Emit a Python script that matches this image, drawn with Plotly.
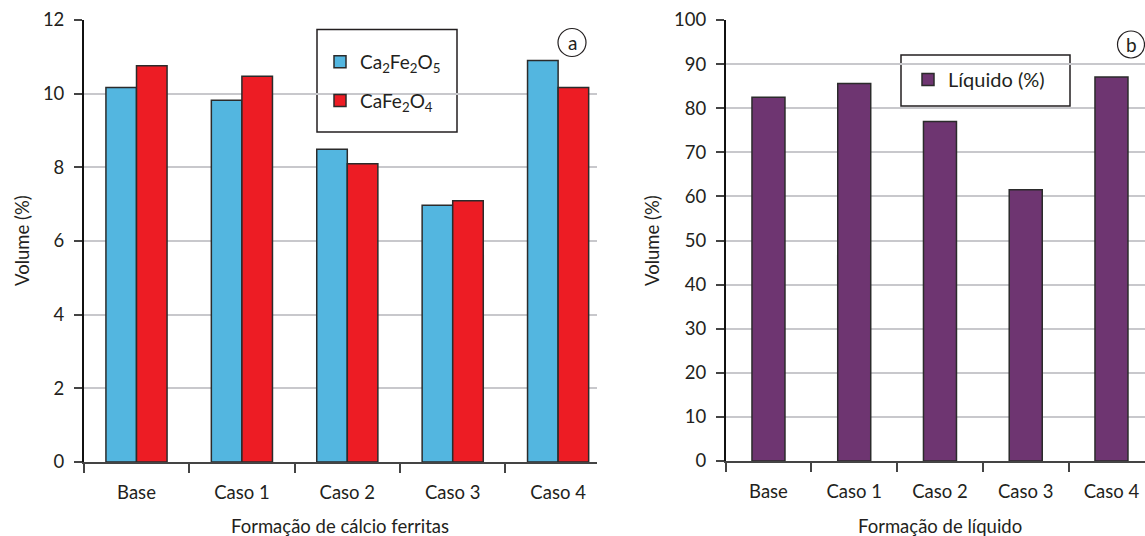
import plotly.graph_objects as go

categories = ["Base", "Caso 1", "Caso 2", "Caso 3", "Caso 4"]
ca2fe2o5 = [10.17, 9.82, 8.49, 6.97, 10.9]
cafe2o4 = [10.76, 10.47, 8.1, 7.09, 10.17]
liquido = [82.5, 85.6, 77.0, 61.5, 87.1]

W, H = 1145, 536
FONT = "Lato"
DARK = "#2b2b2b"
GRID = "#c8c8cc"
TXT = "#231f20"


def px(x):
    return x / W


def py(y):
    return 1 - y / H


fig = go.Figure()

fig.add_trace(go.Bar(
    x=categories, y=ca2fe2o5, name="Ca<sub>2</sub>Fe<sub>2</sub>O<sub>5</sub>",
    marker=dict(color="#53b6e0", line=dict(color=DARK, width=1.5)),
    width=0.29, offset=-0.29, xaxis="x", yaxis="y", legend="legend",
    legendgroup="g1",
))
fig.add_trace(go.Bar(
    x=categories, y=cafe2o4, name="CaFe<sub>2</sub>O<sub>4</sub>",
    marker=dict(color="#ed1c24", line=dict(color=DARK, width=1.5)),
    width=0.29, offset=0.0, xaxis="x", yaxis="y", legend="legend",
    legendgroup="g2",
))
fig.add_trace(go.Bar(
    x=categories, y=liquido, name="Líquido (%)",
    marker=dict(color="#6e3571", line=dict(color=DARK, width=1.5)),
    width=0.385, xaxis="x2", yaxis="y2", legend="legend2",
))

tickfont = dict(family=FONT, size=18.5, color=TXT)
titlefont = dict(family=FONT, size=18.5, color=TXT)

xcommon = dict(
    type="category", showline=True, linecolor="#444", linewidth=1.5,
    ticks="outside", tickson="boundaries", ticklen=9, tickwidth=1.5,
    tickcolor="#444", tickfont=tickfont, showgrid=False, zeroline=False,
    automargin=False, ticklabelstandoff=13,
)
ycommon = dict(
    showline=True, linecolor="#111", linewidth=1.5, ticks="outside",
    ticklen=8, tickwidth=1.5, tickcolor="#444", tickfont=tickfont,
    showgrid=True, gridcolor=GRID, gridwidth=1.5, zeroline=False,
    automargin=False, ticklabelstandoff=6,
)

fig.update_layout(
    width=W, height=H,
    margin=dict(l=0, r=0, t=0, b=0),
    paper_bgcolor="white", plot_bgcolor="white",
    barmode="overlay",
    font=dict(family=FONT, color=TXT),
    xaxis=dict(xcommon, domain=[px(83.8), px(597)], range=[-0.5, 4.369],
               anchor="y"),
    yaxis=dict(ycommon, domain=[py(462), py(20)], range=[0, 12], dtick=2,
               anchor="x"),
    xaxis2=dict(xcommon, domain=[px(725.6), 1.0], range=[-0.5, 4.391],
                anchor="y2"),
    yaxis2=dict(ycommon, domain=[py(461), py(20)], range=[0, 100], dtick=10,
                anchor="x2"),
    legend=dict(
        x=px(320), y=py(43), xanchor="left", yanchor="top",
        bgcolor="rgba(0,0,0,0)", borderwidth=0,
        font=dict(family=FONT, size=19, color=TXT),
        traceorder="grouped", tracegroupgap=11,
    ),
    legend2=dict(
        x=px(908), y=py(60), xanchor="left", yanchor="top",
        bgcolor="rgba(0,0,0,0)", borderwidth=0,
        font=dict(family=FONT, size=20, color=TXT),
    ),
    showlegend=True,
)

shapes = [
    dict(type="rect", xref="paper", yref="paper",
         x0=px(317), x1=px(457), y0=py(132), y1=py(29.6),
         line=dict(color=TXT, width=1.5), fillcolor="white", layer="below"),
    dict(type="rect", xref="paper", yref="paper",
         x0=px(901), x1=px(1070), y0=py(106), y1=py(55),
         line=dict(color=TXT, width=1.5), fillcolor="white", layer="below"),
    dict(type="circle", xref="paper", yref="paper",
         x0=px(558), x1=px(586), y0=py(56.5), y1=py(28.5),
         line=dict(color=TXT, width=1.2)),
    dict(type="circle", xref="paper", yref="paper",
         x0=px(1117.5), x1=px(1144.5), y0=py(58), y1=py(31),
         line=dict(color=TXT, width=1.2)),
]
fig.update_layout(shapes=shapes)


def note(x, y, text, size=18.5, angle=0):
    fig.add_annotation(x=px(x), y=py(y), xref="paper", yref="paper",
                       xanchor="center", yanchor="middle", textangle=angle,
                       text=text, showarrow=False,
                       font=dict(family=FONT, size=size, color=TXT))


note(572, 42.5, "a", size=19)
note(1131, 44.5, "b", size=19)
note(340, 526, "Formação de cálcio ferritas")
note(940, 526, "Formação de líquido")
note(22, 241, "Volume (%)", angle=-90)
note(652, 241, "Volume (%)", angle=-90)

fig.write_html("out.html")
